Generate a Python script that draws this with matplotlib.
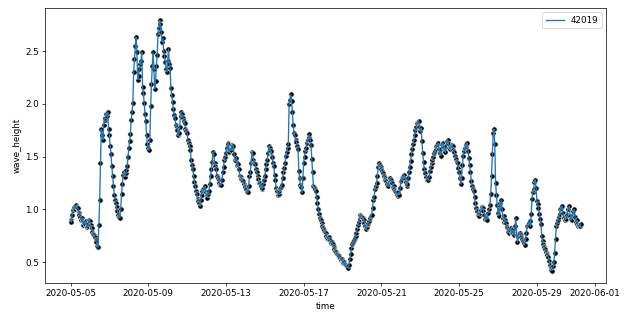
import pandas as pd
import matplotlib
matplotlib.use('Agg')
import matplotlib.pyplot as plt

# buoy 42019, hourly readings starting 2020-05-05 00:00
station = '42019'
start = '2020-05-05 00:00'
step = '1h'
wave_height = [
    0.90, 0.88, 0.95, 0.99, 1.02, 1.00, 1.03, 1.04, 1.02, 1.01, 0.97, 0.95,
    0.93, 0.90, 0.92, 0.89, 0.85, 0.88, 0.86, 0.89, 0.83, 0.84, 0.87, 0.90,
    0.89, 0.85, 0.82, 0.79, 0.77, 0.76, 0.74, 0.71, 0.69, 0.65, 0.64, 0.85,
    1.09, 1.44, 1.76, 1.70, 1.66, 1.80, 1.85, 1.87, 1.90, 1.88, 1.92, 1.76,
    1.70, 1.60, 1.52, 1.41, 1.32, 1.22, 1.14, 1.09, 1.06, 1.02, 0.98, 0.95,
    0.93, 0.92, 1.00, 1.15, 1.24, 1.33, 1.35, 1.31, 1.34, 1.37, 1.41, 1.50,
    1.58, 1.65, 1.71, 1.85, 1.92, 2.01, 2.30, 2.42, 2.55, 2.63, 2.49, 2.23,
    2.26, 2.33, 2.38, 2.41, 2.49, 2.16, 2.10, 2.01, 1.90, 1.84, 1.70, 1.62,
    1.58, 1.56, 1.66, 1.98, 2.19, 2.36, 2.49, 2.33, 2.14, 2.22, 2.36, 2.46,
    2.66, 2.72, 2.79, 2.76, 2.68, 2.59, 2.62, 2.50, 2.45, 2.40, 2.33, 2.30,
    2.41, 2.52, 2.38, 2.34, 2.15, 2.08, 2.02, 1.95, 1.89, 1.87, 1.80, 1.78,
    1.75, 1.70, 1.72, 1.78, 1.92, 1.88, 1.90, 1.87, 1.84, 1.82, 1.76, 1.74,
    1.72, 1.66, 1.63, 1.60, 1.56, 1.47, 1.42, 1.38, 1.32, 1.26, 1.22, 1.17,
    1.15, 1.10, 1.08, 1.06, 1.03, 1.09, 1.17, 1.14, 1.19, 1.20, 1.22, 1.16,
    1.14, 1.11, 1.15, 1.17, 1.24, 1.32, 1.38, 1.45, 1.54, 1.52, 1.44, 1.41,
    1.38, 1.32, 1.30, 1.28, 1.25, 1.23, 1.23, 1.28, 1.35, 1.40, 1.47, 1.50,
    1.53, 1.58, 1.63, 1.62, 1.54, 1.57, 1.56, 1.59, 1.61, 1.60, 1.52, 1.47,
    1.46, 1.49, 1.42, 1.43, 1.38, 1.32, 1.31, 1.29, 1.28, 1.27, 1.24, 1.22,
    1.21, 1.19, 1.16, 1.16, 1.22, 1.32, 1.35, 1.44, 1.54, 1.53, 1.47, 1.44,
    1.43, 1.38, 1.35, 1.32, 1.29, 1.25, 1.25, 1.22, 1.19, 1.20, 1.24, 1.28,
    1.32, 1.38, 1.43, 1.47, 1.53, 1.60, 1.58, 1.54, 1.55, 1.50, 1.44, 1.41,
    1.33, 1.28, 1.20, 1.17, 1.14, 1.15, 1.17, 1.20, 1.21, 1.23, 1.30, 1.35,
    1.39, 1.44, 1.51, 1.54, 1.58, 1.62, 2.00, 2.04, 2.09, 2.03, 1.92, 1.80,
    1.72, 1.70, 1.66, 1.64, 1.60, 1.57, 1.36, 1.30, 1.23, 1.21, 1.16, 1.30,
    1.44, 1.50, 1.55, 1.58, 1.63, 1.66, 1.69, 1.71, 1.66, 1.61, 1.48, 1.35,
    1.22, 1.21, 1.19, 1.17, 1.12, 1.06, 1.00, 0.96, 0.92, 0.90, 0.87, 0.84,
    0.82, 0.80, 0.79, 0.78, 0.75, 0.73, 0.72, 0.74, 0.70, 0.71, 0.68, 0.69,
    0.67, 0.64, 0.62, 0.61, 0.60, 0.58, 0.57, 0.55, 0.56, 0.54, 0.52, 0.53,
    0.51, 0.49, 0.50, 0.48, 0.47, 0.45, 0.46, 0.44, 0.47, 0.53, 0.58, 0.63,
    0.67, 0.69, 0.71, 0.73, 0.75, 0.78, 0.81, 0.85, 0.88, 0.91, 0.95, 0.94,
    0.93, 0.92, 0.90, 0.87, 0.84, 0.81, 0.83, 0.86, 0.87, 0.89, 0.92, 0.94,
    0.95, 1.01, 1.09, 1.12, 1.19, 1.22, 1.25, 1.32, 1.40, 1.44, 1.42, 1.40,
    1.38, 1.36, 1.34, 1.32, 1.30, 1.28, 1.27, 1.24, 1.22, 1.25, 1.27, 1.30,
    1.28, 1.25, 1.21, 1.22, 1.19, 1.17, 1.16, 1.14, 1.13, 1.16, 1.14, 1.20,
    1.27, 1.30, 1.28, 1.31, 1.33, 1.29, 1.26, 1.22, 1.24, 1.30, 1.35, 1.40,
    1.46, 1.52, 1.57, 1.62, 1.66, 1.70, 1.75, 1.78, 1.82, 1.83, 1.84, 1.78,
    1.74, 1.77, 1.65, 1.53, 1.45, 1.38, 1.34, 1.31, 1.28, 1.29, 1.28, 1.31,
    1.36, 1.40, 1.44, 1.47, 1.50, 1.53, 1.55, 1.57, 1.60, 1.61, 1.63, 1.57,
    1.53, 1.51, 1.57, 1.62, 1.63, 1.59, 1.56, 1.54, 1.60, 1.65, 1.66, 1.62,
    1.58, 1.57, 1.59, 1.61, 1.60, 1.56, 1.54, 1.51, 1.48, 1.45, 1.44, 1.39,
    1.35, 1.30, 1.24, 1.30, 1.42, 1.51, 1.55, 1.58, 1.60, 1.62, 1.63, 1.55,
    1.49, 1.42, 1.35, 1.27, 1.22, 1.19, 1.17, 1.12, 1.06, 1.01, 0.98, 0.95,
    0.96, 0.94, 0.97, 0.99, 1.02, 1.01, 0.98, 0.95, 0.91, 0.93, 0.90, 0.96,
    0.97, 1.00, 1.04, 1.15, 1.32, 1.52, 1.72, 1.76, 1.62, 1.25, 1.14, 1.04,
    0.97, 0.94, 1.06, 1.00, 1.09, 1.00, 0.92, 0.94, 0.88, 0.90, 0.87, 0.83,
    0.79, 0.78, 0.82, 0.80, 0.82, 0.78, 0.81, 0.78, 0.76, 0.84, 0.92, 0.76,
    0.69, 0.75, 0.77, 0.78, 0.76, 0.74, 0.72, 0.70, 0.68, 0.66, 0.72, 0.78,
    0.84, 0.85, 0.87, 0.89, 0.84, 0.96, 1.10, 1.16, 1.19, 1.26, 1.28, 1.20,
    1.08, 1.05, 1.01, 0.96, 0.91, 0.86, 0.75, 0.70, 0.67, 0.64, 0.62, 0.60,
    0.58, 0.57, 0.55, 0.51, 0.47, 0.44, 0.43, 0.42, 0.46, 0.50, 0.59, 0.72,
    0.84, 0.87, 0.90, 0.93, 0.96, 1.00, 1.01, 1.03, 0.97, 0.93, 0.92, 0.90,
    0.91, 0.95, 1.00, 1.00, 1.03, 0.94, 0.91, 0.90, 0.95, 0.98, 1.00, 0.93,
    0.88, 0.90, 0.86, 0.84, 0.85, 0.84, 0.86,
]

df = pd.DataFrame({
    'time': pd.date_range(start, periods=len(wave_height), freq=step),
    'wave_height': wave_height,
})

fig, ax = plt.subplots(figsize=(10, 5), dpi=63.4)
fig.subplots_adjust(left=0.071, right=0.956, bottom=0.107, top=0.975)

# dots under the line, only the line goes in the legend
ax.scatter(df['time'], df['wave_height'], s=36, c='black',
           edgecolors='w', linewidths=0.75)
ax.plot(df['time'], df['wave_height'], color='#1f77b4', label=station)

ax.set_xlabel('time')
ax.set_ylabel('wave_height')
ax.legend(loc='upper right')

fig.savefig('out.png', dpi=63.4)
